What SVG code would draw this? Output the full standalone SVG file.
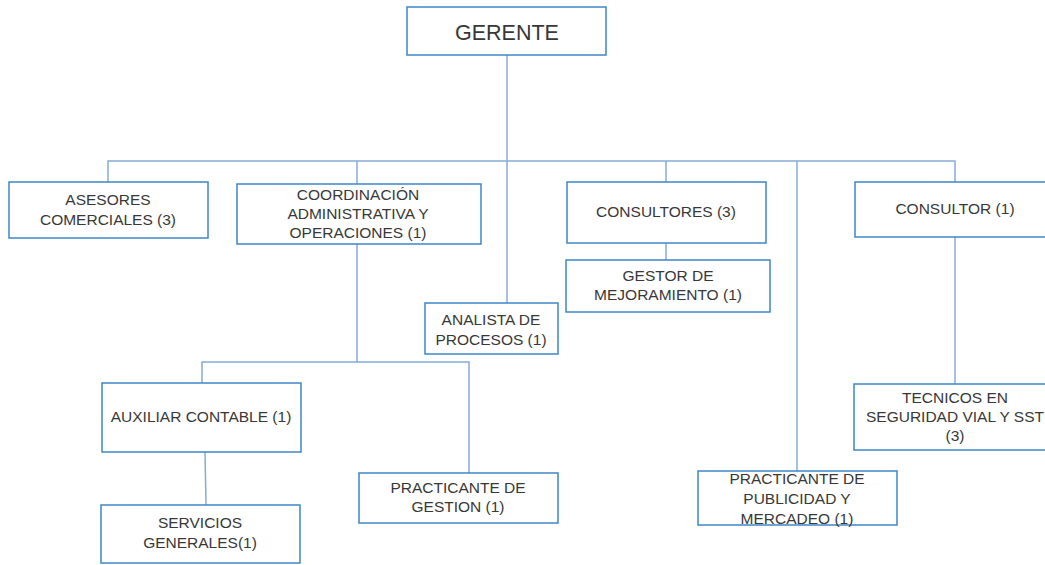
<svg xmlns="http://www.w3.org/2000/svg" width="1045" height="565" viewBox="0 0 1045 565">
<style>
.box{fill:#fff;stroke:#3f86c8;stroke-width:1.5}
.t{font-family:"Liberation Sans",Arial,sans-serif;font-size:15.5px;fill:#383838;text-anchor:middle}
.big{font-size:21.5px}
.c{fill:none;stroke:#86acd6;stroke-width:1.5}
</style>
<rect width="1045" height="565" fill="#fff"/>
<g id="connectors">
<path class="c" d="M507,55 V303"/>
<path class="c" d="M108,182 V161 H955 V182"/>
<path class="c" d="M357,161 V184"/>
<path class="c" d="M666,161 V182"/>
<path class="c" d="M797,161 V471"/>
<path class="c" d="M666,243 V260"/>
<path class="c" d="M955,237 V384"/>
<path class="c" d="M357,244 V362 H202 V383"/>
<path class="c" d="M357,362 H469 V473"/>
<path class="c" d="M205,452 L206,505"/>
</g>
<g id="gerente"><rect class="box" x="407" y="7" width="199" height="48"/><text class="t big" x="507" y="40">GERENTE</text></g>
<g id="asesores"><rect class="box" x="9" y="182" width="199" height="56"/><text class="t" x="108" y="205">ASESORES</text><text class="t" x="108" y="225">COMERCIALES (3)</text></g>
<g id="coordinacion"><rect class="box" x="237" y="184" width="244" height="60"/><text class="t" x="358" y="200">COORDINACIÓN</text><text class="t" x="358" y="219">ADMINISTRATIVA Y</text><text class="t" x="358" y="238">OPERACIONES (1)</text></g>
<g id="consultores"><rect class="box" x="567" y="182" width="199" height="61"/><text class="t" x="666" y="217">CONSULTORES (3)</text></g>
<g id="gestor"><rect class="box" x="566" y="260" width="204" height="52"/><text class="t" x="668" y="281">GESTOR DE</text><text class="t" x="668" y="300">MEJORAMIENTO (1)</text></g>
<g id="consultor"><rect class="box" x="855" y="182" width="200" height="55"/><text class="t" x="955" y="214">CONSULTOR (1)</text></g>
<g id="analista"><rect class="box" x="425" y="303" width="133" height="51"/><text class="t" x="491" y="325">ANALISTA DE</text><text class="t" x="491" y="345">PROCESOS (1)</text></g>
<g id="auxiliar"><rect class="box" x="102" y="383" width="199" height="69"/><text class="t" x="201" y="422">AUXILIAR CONTABLE (1)</text></g>
<g id="practicante-gestion"><rect class="box" x="359" y="473" width="199" height="50"/><text class="t" x="458" y="493">PRACTICANTE DE</text><text class="t" x="458" y="512">GESTION (1)</text></g>
<g id="servicios"><rect class="box" x="101" y="505" width="199" height="58"/><text class="t" x="200" y="528">SERVICIOS</text><text class="t" x="200" y="548">GENERALES(1)</text></g>
<g id="tecnicos"><rect class="box" x="854" y="384" width="200" height="66"/><text class="t" x="955" y="403">TECNICOS EN</text><text class="t" x="955" y="422">SEGURIDAD VIAL Y SST</text><text class="t" x="955" y="441">(3)</text></g>
<g id="practicante-publicidad"><rect class="box" x="698" y="471" width="199" height="54"/><text class="t" x="797" y="484">PRACTICANTE DE</text><text class="t" x="797" y="504">PUBLICIDAD Y</text><text class="t" x="797" y="524">MERCADEO (1)</text></g>
</svg>
